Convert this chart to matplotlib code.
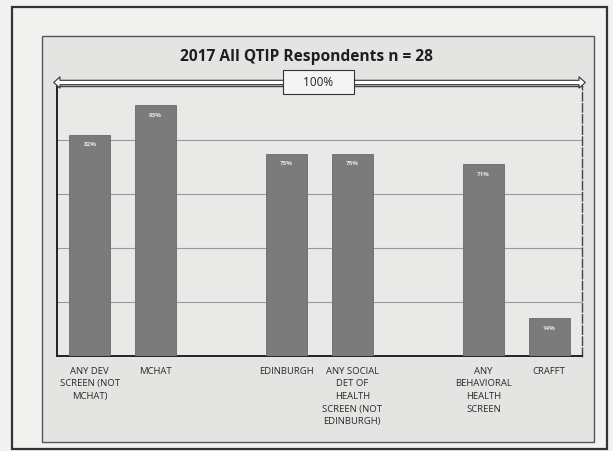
import matplotlib.pyplot as plt
from matplotlib.patches import Rectangle, FancyArrowPatch

# chart data (blank slots are empty categories in the original sheet)
categories = ["ANY DEV\nSCREEN (NOT\nMCHAT)", "MCHAT", "",
              "EDINBURGH", "ANY SOCIAL\nDET OF\nHEALTH\nSCREEN (NOT\nEDINBURGH)", "",
              "ANY\nBEHAVIORAL\nHEALTH\nSCREEN", "CRAFFT"]
percent = [82, 93, None, 75, 75, None, 71, 14]
value_labels = ["82%", "93%", "", "75%", "75%", "", "71%", "14%"]
y_ticks = [0, 20, 40, 60, 80, 100]
title = "2017 All QTIP Respondents n = 28"
span_label = "100%"

plt.rcParams['font.family'] = ['Open Sans', 'DejaVu Sans']

fig = plt.figure(figsize=(6.13, 4.52), dpi=100)
fig.patch.set_facecolor('#f1f1ef')

# outer frame and inner chart panel, kept behind the axes
fig.add_artist(Rectangle((12/613, 1-450/452), 595/613, 442/452, transform=fig.transFigure,
                         fill=False, edgecolor='#333333', linewidth=1.6, zorder=-10))
fig.add_artist(Rectangle((42/613, 1-443/452), 552/613, 406/452, transform=fig.transFigure,
                         facecolor='#e4e4e2', edgecolor='#555555', linewidth=1.0, zorder=-9))

ax = fig.add_axes([57/613, 1-357/452, 525/613, 270/452])
ax.set_zorder(2)
ax.set_facecolor('#e9e9e7')

xs = list(range(len(categories)))
heights = [0 if v is None else v for v in percent]
bars = ax.bar(xs, heights, width=0.62, color='#7b7b7b', edgecolor='#6a6a6a', linewidth=0.6, zorder=3)

for b, v, lab in zip(bars, percent, value_labels):
    if v is None:
        continue
    ax.text(b.get_x() + b.get_width()/2, v - 2.5, lab, ha='center', va='top',
            fontsize=4.5, color='#e6e6e6', fontweight='bold', zorder=4)

ax.set_xlim(-0.5, len(categories) - 0.5)
ax.set_ylim(0, 100)
ax.set_yticks(y_ticks)
ax.set_yticklabels([])
ax.tick_params(axis='y', length=0)
ax.tick_params(axis='x', length=0, pad=7)
ax.set_xticks(xs)
ax.set_xticklabels(categories, fontsize=6.8, color='#2a2a2a', linespacing=1.52)
ax.yaxis.grid(True, color='#9a9a9a', linewidth=0.8, zorder=0)

for side in ['top', 'right']:
    ax.spines[side].set_color('#444444')
    ax.spines[side].set_linewidth(1.0)
ax.spines['right'].set_linestyle((0, (6, 2)))
ax.spines['left'].set_color('#222222')
ax.spines['left'].set_linewidth(1.4)
ax.spines['bottom'].set_color('#222222')
ax.spines['bottom'].set_linewidth(1.4)

# hollow double-headed span arrow, drawn as two halves from the label outwards
x_mid = 3.48
y_span = 101.3
for x_end in (-0.55, len(categories) - 0.45):
    ax.add_patch(FancyArrowPatch((x_mid, y_span), (x_end, y_span),
                                 arrowstyle='simple,head_length=0.5,head_width=0.9,tail_width=0.35',
                                 mutation_scale=9, facecolor='white', edgecolor='#333333',
                                 linewidth=0.8, clip_on=False, shrinkA=0, shrinkB=0, zorder=4))
ax.text(x_mid, y_span + 0.2, "     " + span_label + "     ", ha='center', va='center',
        fontsize=8.5, color='#222222',
        bbox=dict(boxstyle='square,pad=0.45', facecolor='#f4f4f2', edgecolor='#333333', linewidth=0.8),
        clip_on=False, zorder=5)

fig.text(306/613, 1-57/452, title, ha='center', va='center', fontsize=11.2,
         fontweight='bold', color='#1e1e1e', zorder=5)

fig.savefig('out.png', dpi=100, facecolor=fig.get_facecolor())
